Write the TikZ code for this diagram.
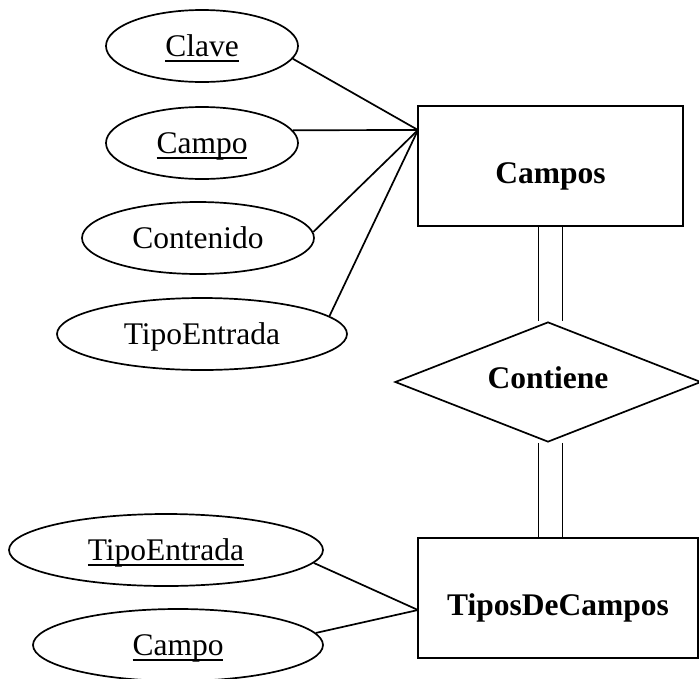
\documentclass[tikz,border=0pt]{standalone}
\usepackage{fontspec}
\setmainfont{Liberation Serif}
\usetikzlibrary{shapes.geometric,positioning}
\newcommand{\pk}[1]{\setbox0\hbox{#1}\rlap{\rule[-5pt]{\wd0}{1.4pt}}\box0}
\tikzset{
	attr/.style={ellipse,draw,line width=1.7pt,inner sep=0,minimum height=72pt,font=\fontsize{31.5}{36}\selectfont,text height=21pt,text depth=0pt},
	entity/.style={rectangle,draw,line width=1.7pt,inner sep=0,minimum height=120pt,font=\fontsize{31.5}{36}\selectfont\bfseries,text height=34pt,text depth=0pt},
	rel/.style={diamond,draw,line width=1.7pt,inner sep=0,aspect=2.55,minimum width=306pt,minimum height=120pt,font=\fontsize{31.5}{36}\selectfont\bfseries,text height=12pt,text depth=0pt},
	edge/.style={color=black, line width=1.7pt}
}
\begin{document}
\begin{tikzpicture}[x=1pt,y=-1pt]
				\useasboundingbox (0,0) rectangle (699,678);
				%%%% Campos
				\node[entity,minimum width=265pt] (campos) at (550.5,166) {Campos};
				\node[attr,minimum width=192pt] (clave) at (202,46) {\pk{Clave}};
				\node[attr,minimum width=192pt] (campo1) at (202,143) {\pk{Campo}};
				\node[attr,minimum width=232pt] (contenido) at (198,238) {Contenido};
				\node[attr,minimum width=290pt] (tipo1) at (202,334) {TipoEntrada};
				\coordinate (cA) at (418,130);
				\draw[edge] (clave.-8) -- (cA);
				\draw[edge] (campo1.8) -- (cA);
				\draw[edge] (contenido.3) -- (cA);
				\draw[edge] (tipo1.8) -- (cA);
				
				%%%% Contiene
				\node[rel] (contiene) at (548,382) {Contiene};
				
				%%%% TiposDeCampos
				\node[entity,minimum width=280pt] (tipos) at (558,598) {TiposDeCampos};
				\node[attr,minimum width=314pt] (tipo2) at (166,550) {\pk{TipoEntrada}};
				\node[attr,minimum width=290pt] (campo2) at (178,645) {\pk{Campo}};
				\coordinate (cB) at (418,610);
				\draw[edge] (tipo2.-5) -- (cB);
				\draw[edge] (campo2.5) -- (cB);
				
				%%%% double lines
				\draw[edge] ([xshift=-12pt]campos.south) -- ([xshift=-12pt]campos.south |- contiene.north)
				([xshift=12pt]campos.south) -- ([xshift=12pt]campos.south |- contiene.north);
				\draw[edge] ([xshift=-12pt]campos.south |- contiene.south) -- ([xshift=-12pt]campos.south |- tipos.north)
				([xshift=12pt]campos.south |- contiene.south) -- ([xshift=12pt]campos.south |- tipos.north);
\end{tikzpicture}
\end{document}
